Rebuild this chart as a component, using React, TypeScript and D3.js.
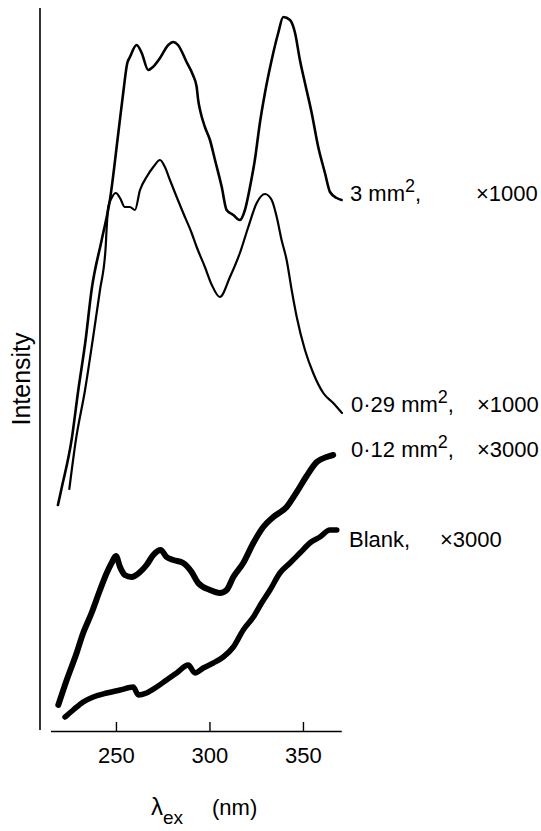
import React from "react";
import * as d3 from "d3";

// Excitation wavelength (nm) and relative intensity (arbitrary units)
const s3mm_x = [218.7, 220.7, 226.0, 229.6, 233.5, 236.7, 242.1, 246.5, 251, 253.6, 255.8, 257.2, 260.8, 263.5, 267, 269.5, 273.3, 277.7, 280.4, 282.9, 287.5, 290.9, 292.9, 293.7, 294.7, 297.3, 300, 302.7, 306.3, 308.9, 312.5, 316, 318.7, 321.4, 324, 326.7, 329.4, 333, 336.5, 339.2, 342.8, 345.5, 348.1, 350.8, 354.4, 357.9, 361.5, 364.2, 367.8, 370.4];
const s3mm_y = [22.6, 24.3, 29.1, 34.1, 39.1, 44.1, 49.1, 53.1, 59.8, 63.8, 66.8, 67.4, 68.6, 67.8, 66.1, 66.4, 67.3, 68.6, 68.9, 68.6, 66.9, 65.6, 64.4, 63.1, 62.1, 60.4, 59.1, 57.1, 54.4, 52.1, 51.6, 51.1, 52.1, 54.4, 57.1, 60.8, 63.8, 67.1, 69.8, 71.4, 71.1, 69.8, 67.1, 64.8, 61.8, 58.4, 55.8, 53.9, 53.3, 53.1];

const s029_x = [224.8, 228.3, 233.2, 237.3, 241.2, 244.2, 244.8, 245.6, 247.4, 249.7, 251.9, 254.5, 257.2, 259.9, 262.6, 266.1, 269.7, 273.3, 275.9, 278.6, 282.2, 285.7, 290.2, 292.9, 297.3, 301, 305.3, 310.7, 316, 320.5, 325, 329.4, 333, 335.7, 338.3, 341, 343.7, 346.4, 350.8, 355.2, 360.6, 365.9, 370.6];
const s029_y = [24.2, 29.1, 34.1, 39.1, 44.1, 48.3, 50.4, 52.4, 53.3, 53.8, 53.3, 52.4, 52.4, 52.1, 54.1, 55.4, 56.4, 57.1, 56.4, 55.1, 53.4, 51.8, 49.8, 48.4, 46.4, 44.6, 43.4, 45.4, 47.8, 50.4, 52.8, 53.7, 53.1, 51.4, 49.1, 47.1, 44.1, 41.4, 38.1, 35.8, 33.8, 32.8, 31.8];

const s012_x = [218.9, 223.4, 228.7, 232.2, 236.7, 241.2, 244.8, 247.4, 249.7, 251.9, 254.5, 258.1, 262.6, 266.1, 269.7, 273.6, 276.8, 280.4, 285.7, 290.2, 293.7, 300, 305.3, 308.9, 312.5, 317.8, 323.2, 328.5, 333.9, 341, 346.4, 351.7, 357.1, 362.4, 365.9];
const s012_y = [2.6, 5.1, 7.8, 9.8, 11.8, 14.1, 15.8, 16.8, 17.5, 16.4, 15.6, 15.4, 15.9, 16.6, 17.6, 18.1, 17.4, 17.1, 16.8, 15.9, 14.8, 14.1, 13.8, 14.1, 15.4, 16.8, 18.8, 20.4, 21.4, 22.4, 23.9, 25.5, 26.9, 27.4, 27.6];

const blank_x = [222.5, 226.9, 232.2, 237.6, 244.8, 251.9, 259, 261.7, 266.1, 271.5, 276.8, 282.2, 288.4, 292, 296.4, 301.8, 307.1, 312.5, 317.8, 323.2, 327.6, 332.1, 337.4, 342.8, 348.1, 353.4, 358.8, 364.1, 367.8];
const blank_y = [1.4, 2.1, 2.9, 3.4, 3.8, 4.1, 4.4, 3.6, 3.8, 4.4, 5.1, 5.8, 6.6, 5.8, 6.3, 6.8, 7.4, 8.4, 10.1, 11.4, 12.8, 14.1, 15.8, 16.8, 17.8, 18.8, 19.4, 20.1, 20.1];

const xTicks = [250, 300, 350];

const W = 541;
const H = 831;

export default function App() {
  const x = d3.scaleLinear().domain([215, 370.5]).range([51, 341.8]);
  const y = d3.scaleLinear().domain([0, 72.3]).range([731, 8]);
  const line = d3
    .line<[number, number]>()
    .x((d) => x(d[0]))
    .y((d) => y(d[1]))
    .curve(d3.curveMonotoneX);
  const zip = (a: number[], b: number[]) => a.map((v, i) => [v, b[i]] as [number, number]);

  const series = [
    { d: zip(s3mm_x, s3mm_y), w: 2.6 },
    { d: zip(s029_x, s029_y), w: 2.2 },
    { d: zip(s012_x, s012_y), w: 6 },
    { d: zip(blank_x, blank_y), w: 5.5 },
  ];

  const font = "'Liberation Sans', Arial, Helvetica, sans-serif";
  const fs = 22;

  const label = (tx: number, ty: number, main: string, hasSup: boolean, mult: string, mx: number) => (
    <g>
      <text x={tx} y={ty} fontFamily={font} fontSize={fs} fill="#000">
        {main}
        {hasSup ? (
          <tspan dy={-9} fontSize={18}>
            2
          </tspan>
        ) : null}
        {hasSup ? <tspan dy={9}>,</tspan> : null}
      </text>
      <text x={mx} y={ty} fontFamily={font} fontSize={fs} fill="#000">
        {mult}
      </text>
    </g>
  );

  return (
    <svg
      width={W}
      height={H}
      style={{ position: "absolute", left: 0, top: 0, background: "#fff" }}
    >
      <rect width={W} height={H} fill="#fff" />
      {/* y axis */}
      <line x1={40} x2={40} y1={8} y2={730} stroke="#000" strokeWidth={1.6} />
      {/* x axis */}
      <line x1={x(215)} x2={x(370.5)} y1={731.5} y2={731.5} stroke="#000" strokeWidth={1.6} />
      {xTicks.map((t) => (
        <g key={t}>
          <line x1={x(t)} x2={x(t)} y1={731.5} y2={722} stroke="#000" strokeWidth={1.4} />
          <text x={x(t)} y={763} textAnchor="middle" fontFamily={font} fontSize={fs} fill="#000">
            {t}
          </text>
        </g>
      ))}
      {series.map((s, i) => (
        <path
          key={i}
          d={line(s.d) || ""}
          fill="none"
          stroke="#000"
          strokeWidth={s.w}
          strokeLinejoin="round"
          strokeLinecap="round"
        />
      ))}
      {label(350, 201, "3 mm", true, "×1000", 476)}
      {label(351, 412, "0·29 mm", true, "×1000", 477)}
      {label(351, 457, "0·12 mm", true, "×3000", 477)}
      {label(349, 547, "Blank,", false, "×3000", 440)}
      {/* axis titles */}
      <text
        transform="translate(30,379) rotate(-90)"
        textAnchor="middle"
        fontFamily={font}
        fontSize={25}
        fill="#000"
      >
        Intensity
      </text>
      <text x={151} y={815} fontFamily={font} fontSize={24} fill="#000">
        λ
        <tspan dy={9} fontSize={19}>
          ex
        </tspan>
      </text>
      <text x={212} y={815} fontFamily={font} fontSize={22} fill="#000">
        (nm)
      </text>
    </svg>
  );
}
